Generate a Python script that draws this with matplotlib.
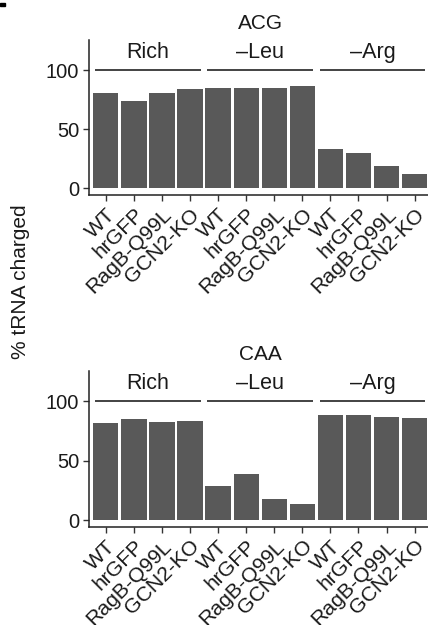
import matplotlib.pyplot as plt
from matplotlib.patches import Rectangle

plt.rcParams['font.family'] = ['Liberation Sans', 'DejaVu Sans']

conditions = ['Rich', '\u2013Leu', '\u2013Arg']
strains = ['WT', 'hrGFP', 'RagB-Q99L', 'GCN2-KO']
panels = ['ACG', 'CAA']

acg_values = [80.4, 74.0, 80.4, 84.1,
              84.9, 84.9, 84.9, 86.6,
              33.5, 30.1, 19.1, 12.4]
caa_values = [81.8, 85.2, 82.6, 83.5,
              28.9, 38.8, 17.7, 13.8,
              88.5, 88.5, 86.8, 86.0]

bar_color = '#595959'
text_color = '#1a1a1a'

fig = plt.figure(figsize=(4.28, 6.25), dpi=100)

# axes rectangles in figure fractions (right edge runs past the image, as in the reference)
rects = [[0.208, 0.688, 0.80, 0.248],
         [0.208, 0.157, 0.80, 0.250]]

for rect, title, values in zip(rects, panels, [acg_values, caa_values]):
    ax = fig.add_axes(rect)
    xs = list(range(len(values)))
    ax.bar(xs, values, width=0.9, color=bar_color, linewidth=0)

    ax.set_xlim(-0.6, len(values) - 0.4)
    ax.set_ylim(-5.5, 125.5)
    ax.set_yticks([0, 50, 100])

    labels = strains * len(conditions)
    ax.set_xticks(xs)
    ax.set_xticklabels(labels, rotation=45, ha='right', va='top',
                       rotation_mode='anchor', fontsize=15.2, color=text_color)
    ax.tick_params(axis='y', labelsize=14.5, labelcolor=text_color)
    ax.tick_params(length=4, width=1, color='#333333', pad=3)

    for side in ['top', 'right']:
        ax.spines[side].set_visible(False)
    for side in ['left', 'bottom']:
        ax.spines[side].set_color('#222222')
        ax.spines[side].set_linewidth(1.1)

    # condition brackets
    n = len(strains)
    for i, cond in enumerate(conditions):
        start = i * n
        end = start + n - 1
        ax.plot([start - 0.38, end + 0.38], [100, 100], color='#222222',
                lw=1.2, solid_capstyle='butt')
        ax.text((start + end) / 2, 110, cond, ha='center', va='baseline',
                fontsize=15.5, color=text_color)

    ax.text((len(values) - 1) / 2, 134.4, title, ha='center', va='baseline',
            fontsize=15, color=text_color, clip_on=False)

fig.text(0.047, 0.549, '% tRNA charged', rotation=90, ha='center', va='center',
         fontsize=15, color=text_color)

# leftover panel letter fragment in the top-left corner
fig.patches.append(Rectangle((0, 0.990), 0.012, 0.005, transform=fig.transFigure,
                             color='black', zorder=5))

fig.savefig('out.png', dpi=100)
